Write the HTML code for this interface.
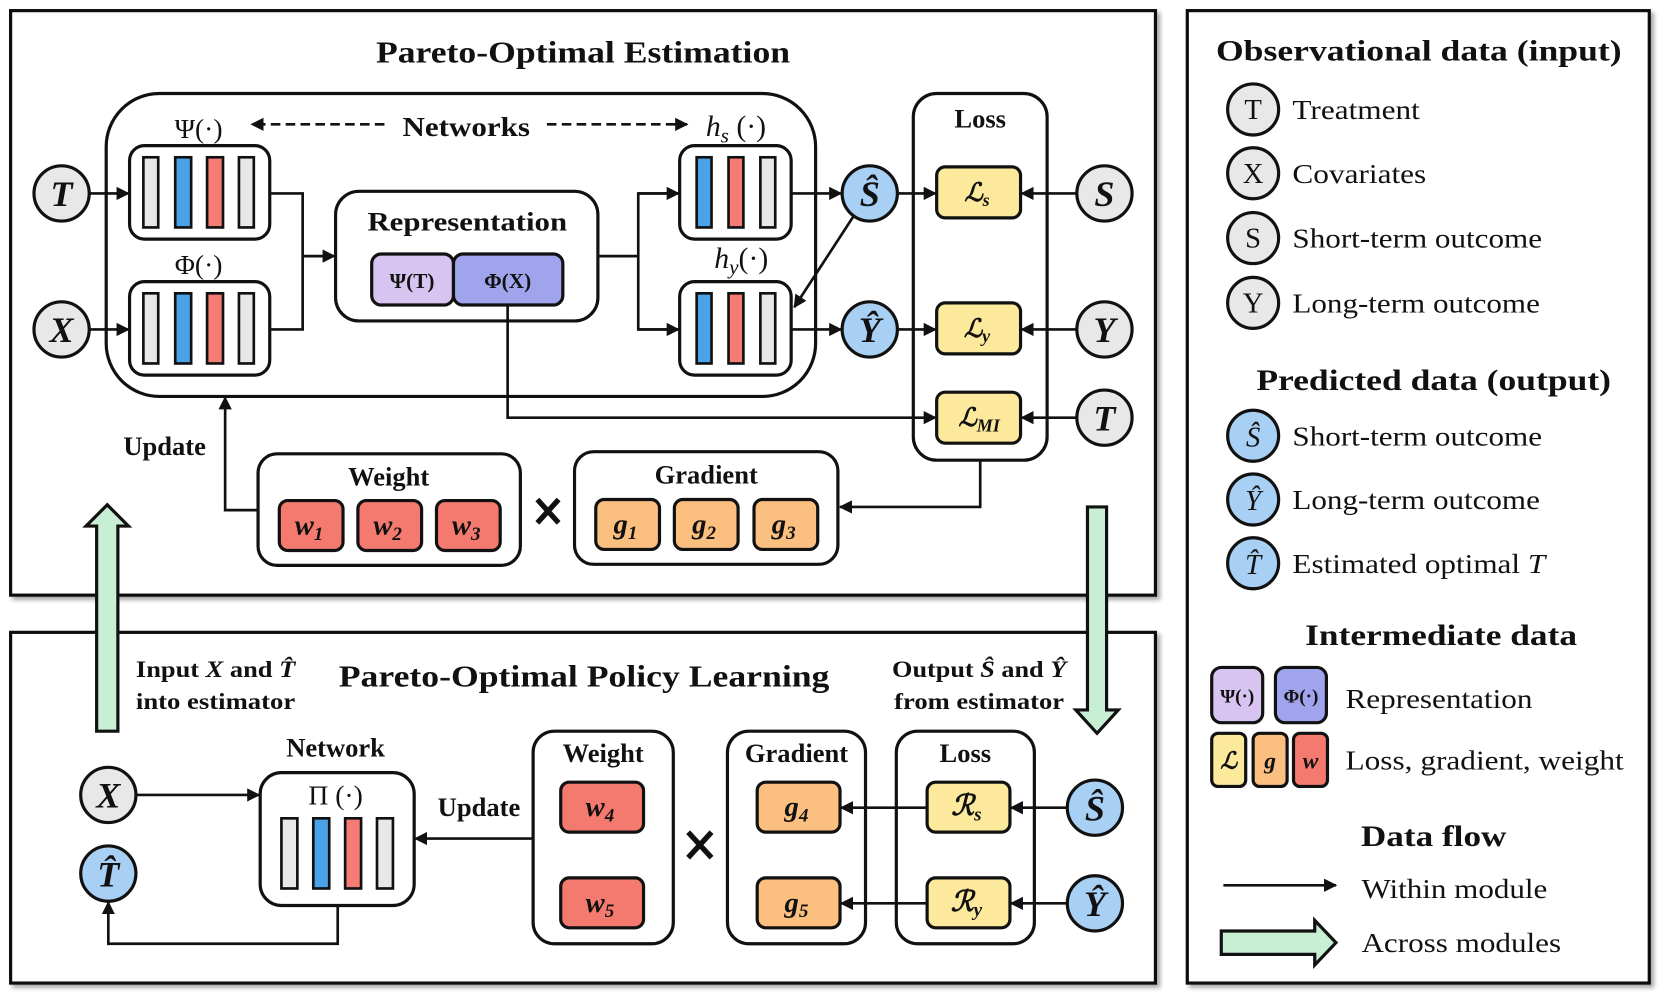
<!DOCTYPE html>
<html><head><meta charset="utf-8"><style>
html,body{margin:0;padding:0;background:#fff;}
svg{display:block;}
text{font-family:"Liberation Serif",serif;fill:#111;}
.b{font-weight:bold;}
.i{font-style:italic;}
</style></head><body>
<svg width="1662" height="999" viewBox="0 0 1565 940" preserveAspectRatio="none" xmlns="http://www.w3.org/2000/svg">
<defs>
<marker id="ah" viewBox="0 0 10 10" refX="9" refY="5" markerWidth="5" markerHeight="5" orient="auto-start-reverse"><path d="M0,0 L10,5 L0,10 z" fill="#111"/></marker>
<filter id="sh" x="-5%" y="-5%" width="110%" height="110%"><feDropShadow dx="3" dy="3" stdDeviation="2" flood-color="#000" flood-opacity="0.35"/></filter>
</defs>
<g fill="none" stroke="#111" stroke-width="3">
<rect x="10" y="10" width="1078" height="550" fill="#fff" filter="url(#sh)"/>
<rect x="10" y="595" width="1078" height="330" fill="#fff" filter="url(#sh)"/>
<rect x="1118" y="10" width="435" height="915" fill="#fff" filter="url(#sh)"/>
<rect x="100" y="88" width="668" height="285" rx="50"/>
<rect x="122" y="137" width="132" height="88" rx="14"/>
<rect x="122" y="265" width="132" height="88" rx="14"/>
<rect x="316" y="180" width="247" height="122" rx="22"/>
<rect x="640" y="137" width="105" height="88" rx="14"/>
<rect x="640" y="265" width="105" height="88" rx="14"/>
<rect x="860" y="88" width="126" height="345" rx="22"/>
<rect x="243" y="427" width="247" height="105" rx="18"/>
<rect x="541" y="425" width="248" height="106" rx="18"/>
</g>
<g stroke="#111" stroke-width="2.5">
<rect x="135" y="148" width="14" height="66" fill="#e8e8e8"/>
<rect x="165" y="148" width="15" height="66" fill="#4aa3e8"/>
<rect x="195" y="148" width="15" height="66" fill="#f47c74"/>
<rect x="225" y="148" width="14" height="66" fill="#e8e8e8"/>
<rect x="135" y="276" width="14" height="66" fill="#e8e8e8"/>
<rect x="165" y="276" width="15" height="66" fill="#4aa3e8"/>
<rect x="195" y="276" width="15" height="66" fill="#f47c74"/>
<rect x="225" y="276" width="14" height="66" fill="#e8e8e8"/>
<rect x="656" y="148" width="14" height="66" fill="#4aa3e8"/>
<rect x="686" y="148" width="14" height="66" fill="#f47c74"/>
<rect x="716" y="148" width="14" height="66" fill="#e8e8e8"/>
<rect x="656" y="276" width="14" height="66" fill="#4aa3e8"/>
<rect x="686" y="276" width="14" height="66" fill="#f47c74"/>
<rect x="716" y="276" width="14" height="66" fill="#e8e8e8"/>
<rect x="265" y="770" width="15" height="66" fill="#e8e8e8"/>
<rect x="295" y="770" width="15" height="66" fill="#4aa3e8"/>
<rect x="325" y="770" width="15" height="66" fill="#f47c74"/>
<rect x="355" y="770" width="15" height="66" fill="#e8e8e8"/>
</g>
<g stroke="#111" stroke-width="3">
<rect x="350" y="239" width="77" height="48" rx="9" fill="#d8c4f0"/>
<rect x="427" y="239" width="103" height="48" rx="9" fill="#a0a4ec"/>
<rect x="882" y="157" width="79" height="48" rx="8" fill="#fde99c"/>
<rect x="882" y="285" width="79" height="48" rx="8" fill="#fde99c"/>
<rect x="882" y="369" width="79" height="48" rx="8" fill="#fde99c"/>
<rect x="263" y="471" width="60" height="47" rx="8" fill="#f47a70"/>
<rect x="337" y="471" width="60" height="47" rx="8" fill="#f47a70"/>
<rect x="411" y="471" width="60" height="47" rx="8" fill="#f47a70"/>
<rect x="561" y="470" width="60" height="47" rx="8" fill="#fbbf80"/>
<rect x="635" y="470" width="60" height="47" rx="8" fill="#fbbf80"/>
<rect x="710" y="470" width="60" height="47" rx="8" fill="#fbbf80"/>
<circle cx="58" cy="182" r="26" fill="#e8e8e8"/>
<circle cx="58" cy="310" r="26" fill="#e8e8e8"/>
<circle cx="819" cy="182" r="26" fill="#a8d0f4"/>
<circle cx="819" cy="310" r="26" fill="#a8d0f4"/>
<circle cx="1040" cy="182" r="26" fill="#e8e8e8"/>
<circle cx="1040" cy="310" r="26" fill="#e8e8e8"/>
<circle cx="1040" cy="393" r="26" fill="#e8e8e8"/>
</g>
<g fill="none" stroke="#111" stroke-width="2.5">
<line x1="84" y1="182" x2="121" y2="182" marker-end="url(#ah)"/>
<line x1="84" y1="310" x2="121" y2="310" marker-end="url(#ah)"/>
<polyline points="254,182 285,182 285,310 254,310"/>
<line x1="285" y1="241" x2="315" y2="241" marker-end="url(#ah)"/>
<line x1="563" y1="241" x2="601" y2="241"/>
<polyline points="639,182 601,182 601,310 639,310"/>
<line x1="601" y1="182" x2="639" y2="182" marker-end="url(#ah)"/>
<line x1="601" y1="310" x2="639" y2="310" marker-end="url(#ah)"/>
<line x1="745" y1="182" x2="792" y2="182" marker-end="url(#ah)"/>
<line x1="745" y1="310" x2="792" y2="310" marker-end="url(#ah)"/>
<line x1="804" y1="203" x2="748" y2="289" marker-end="url(#ah)"/>
<line x1="845" y1="182" x2="881" y2="182" marker-end="url(#ah)"/>
<line x1="845" y1="310" x2="881" y2="310" marker-end="url(#ah)"/>
<line x1="1014" y1="182" x2="962" y2="182" marker-end="url(#ah)"/>
<line x1="1014" y1="310" x2="962" y2="310" marker-end="url(#ah)"/>
<line x1="1014" y1="393" x2="962" y2="393" marker-end="url(#ah)"/>
<polyline points="478,287 478,393 881,393" marker-end="url(#ah)"/>
<polyline points="923,433 923,477 791,477" marker-end="url(#ah)"/>
<polyline points="243,480 212,480 212,374" marker-end="url(#ah)"/>
<line x1="362" y1="117" x2="237" y2="117" stroke-dasharray="9,5" marker-end="url(#ah)"/>
<line x1="515" y1="117" x2="647" y2="117" stroke-dasharray="9,5" marker-end="url(#ah)"/>
</g>
<!-- bold multiplication crosses -->
<g stroke="#111" stroke-width="5" stroke-linecap="butt">
<path d="M506,470 L526,492 M526,470 L506,492"/>
<path d="M648,783 L670,807 M670,783 L648,807"/>
</g>
<g stroke="#111" stroke-width="3" fill="#c8eed4">
<path d="M91,688 L91,495 L81,495 L101,475 L121,495 L111,495 L111,688 Z"/>
<path d="M1024,477 L1024,668 L1013,668 L1033,690 L1053,668 L1042,668 L1042,477 Z"/>
<path d="M1150,876 L1238,876 L1238,866 L1258,887 L1238,908 L1238,898 L1150,898 Z"/>
</g>
<g fill="none" stroke="#111" stroke-width="3">
<rect x="245" y="727" width="145" height="125" rx="20"/>
<rect x="502" y="688" width="132" height="200" rx="20"/>
<rect x="685" y="688" width="130" height="200" rx="20"/>
<rect x="844" y="688" width="130" height="200" rx="20"/>
</g>
<g stroke="#111" stroke-width="3">
<rect x="528" y="736" width="78" height="47" rx="8" fill="#f47a70"/>
<rect x="528" y="826" width="78" height="47" rx="8" fill="#f47a70"/>
<rect x="713" y="736" width="78" height="47" rx="8" fill="#fbbf80"/>
<rect x="713" y="826" width="78" height="47" rx="8" fill="#fbbf80"/>
<rect x="873" y="736" width="78" height="47" rx="8" fill="#fde99c"/>
<rect x="873" y="826" width="78" height="47" rx="8" fill="#fde99c"/>
<circle cx="102" cy="748" r="26" fill="#e8e8e8"/>
<circle cx="102" cy="822" r="26" fill="#a8d0f4"/>
<circle cx="1031" cy="760" r="26" fill="#a8d0f4"/>
<circle cx="1031" cy="850" r="26" fill="#a8d0f4"/>
</g>
<g fill="none" stroke="#111" stroke-width="2.5">
<line x1="129" y1="748" x2="244" y2="748" marker-end="url(#ah)"/>
<polyline points="318,852 318,888 102,888 102,849" marker-end="url(#ah)"/>
<line x1="502" y1="789" x2="391" y2="789" marker-end="url(#ah)"/>
<line x1="873" y1="760" x2="792" y2="760" marker-end="url(#ah)"/>
<line x1="873" y1="850" x2="792" y2="850" marker-end="url(#ah)"/>
<line x1="1005" y1="760" x2="952" y2="760" marker-end="url(#ah)"/>
<line x1="1005" y1="850" x2="952" y2="850" marker-end="url(#ah)"/>
<line x1="1152" y1="833" x2="1258" y2="833" marker-end="url(#ah)"/>
</g>
<g stroke="#111" stroke-width="3">
<circle cx="1180" cy="103" r="24" fill="#e8e8e8"/>
<circle cx="1180" cy="163" r="24" fill="#e8e8e8"/>
<circle cx="1180" cy="224" r="24" fill="#e8e8e8"/>
<circle cx="1180" cy="285" r="24" fill="#e8e8e8"/>
<circle cx="1180" cy="410" r="24" fill="#a8d0f4"/>
<circle cx="1180" cy="470" r="24" fill="#a8d0f4"/>
<circle cx="1180" cy="530" r="24" fill="#a8d0f4"/>
<rect x="1141" y="628" width="48" height="52" rx="9" fill="#d8c4f0"/>
<rect x="1201" y="628" width="48" height="52" rx="9" fill="#a0a4ec"/>
<rect x="1141" y="690" width="32" height="50" rx="6" fill="#fde99c"/>
<rect x="1180" y="690" width="32" height="50" rx="6" fill="#fbbf80"/>
<rect x="1218" y="690" width="32" height="50" rx="6" fill="#f47a70"/>
</g>

<text x="549" y="59" class="b" font-size="29" text-anchor="middle" textLength="390" lengthAdjust="spacingAndGlyphs">Pareto-Optimal Estimation</text>
<text x="187" y="130" font-size="26" text-anchor="middle">Ψ(·)</text>
<text x="187" y="258" font-size="26" text-anchor="middle">Φ(·)</text>
<text x="439" y="128" class="b" font-size="26" text-anchor="middle" textLength="120" lengthAdjust="spacingAndGlyphs">Networks</text>
<text x="693" y="128" font-size="28" text-anchor="middle"><tspan class="i">h</tspan><tspan font-size="20" dy="6" class="i">s</tspan><tspan dy="-6"> (·)</tspan></text>
<text x="698" y="252" font-size="28" text-anchor="middle"><tspan class="i">h</tspan><tspan font-size="20" dy="6" class="i">y</tspan><tspan dy="-6">(·)</tspan></text>
<text x="440" y="217" class="b" font-size="25" text-anchor="middle" textLength="188" lengthAdjust="spacingAndGlyphs">Representation</text>
<text x="388" y="271" class="b" font-size="20" text-anchor="middle">Ψ(T)</text>
<text x="478" y="271" class="b" font-size="20" text-anchor="middle">Φ(X)</text>
<text x="923" y="120" class="b" font-size="25" text-anchor="middle">Loss</text>
<g font-size="34" text-anchor="middle">
<text x="58" y="194" class="b i">T</text>
<text x="58" y="322" class="b i">X</text>
<text x="819" y="194" class="b i">Ŝ</text>
<text x="819" y="322" class="b i">Ŷ</text>
<text x="1040" y="194" class="b i">S</text>
<text x="1040" y="322" class="b i">Y</text>
<text x="1040" y="405" class="b i">T</text>
</g>
<text x="920" y="189" font-size="24" text-anchor="middle" class="b i">ℒ<tspan font-size="17" dy="5">s</tspan></text>
<text x="920" y="317" font-size="24" text-anchor="middle" class="b i">ℒ<tspan font-size="17" dy="5">y</tspan></text>
<text x="922" y="401" font-size="24" text-anchor="middle" class="b i">ℒ<tspan font-size="17" dy="5">MI</tspan></text>
<text x="155" y="428" class="b" font-size="25" text-anchor="middle">Update</text>
<text x="366" y="457" class="b" font-size="25" text-anchor="middle">Weight</text>
<text x="665" y="455" class="b" font-size="25" text-anchor="middle">Gradient</text>
<g font-size="27" text-anchor="middle">
<text x="291" y="503" class="b i">w<tspan font-size="18" dy="5">1</tspan></text>
<text x="365" y="503" class="b i">w<tspan font-size="18" dy="5">2</tspan></text>
<text x="439" y="503" class="b i">w<tspan font-size="18" dy="5">3</tspan></text>
<text x="589" y="502" class="b i">g<tspan font-size="18" dy="5">1</tspan></text>
<text x="663" y="502" class="b i">g<tspan font-size="18" dy="5">2</tspan></text>
<text x="738" y="502" class="b i">g<tspan font-size="18" dy="5">3</tspan></text>
<text x="565" y="768" class="b i">w<tspan font-size="18" dy="5">4</tspan></text>
<text x="565" y="858" class="b i">w<tspan font-size="18" dy="5">5</tspan></text>
<text x="750" y="768" class="b i">g<tspan font-size="18" dy="5">4</tspan></text>
<text x="750" y="858" class="b i">g<tspan font-size="18" dy="5">5</tspan></text>
<text x="910" y="767" class="b i">ℛ<tspan font-size="18" dy="5">s</tspan></text>
<text x="910" y="857" class="b i">ℛ<tspan font-size="18" dy="5">y</tspan></text>
</g>

<text x="550" y="646" class="b" font-size="29" text-anchor="middle" textLength="462" lengthAdjust="spacingAndGlyphs">Pareto-Optimal Policy Learning</text>
<text x="128" y="637" class="b" font-size="22" textLength="150" lengthAdjust="spacingAndGlyphs">Input <tspan class="i">X</tspan> and <tspan class="i">T̂</tspan></text>
<text x="128" y="667" class="b" font-size="22" textLength="150" lengthAdjust="spacingAndGlyphs">into estimator</text>
<text x="922" y="637" class="b" font-size="22" text-anchor="middle" textLength="164" lengthAdjust="spacingAndGlyphs">Output <tspan class="i">Ŝ</tspan> and <tspan class="i">Ŷ</tspan></text>
<text x="922" y="667" class="b" font-size="22" text-anchor="middle" textLength="160" lengthAdjust="spacingAndGlyphs">from estimator</text>
<text x="316" y="712" class="b" font-size="25" text-anchor="middle">Network</text>
<text x="316" y="757" font-size="26" text-anchor="middle">Π (·)</text>
<text x="451" y="768" class="b" font-size="25" text-anchor="middle">Update</text>
<text x="568" y="717" class="b" font-size="25" text-anchor="middle">Weight</text>
<text x="750" y="717" class="b" font-size="25" text-anchor="middle">Gradient</text>
<text x="909" y="717" class="b" font-size="25" text-anchor="middle">Loss</text>
<g font-size="34" text-anchor="middle">
<text x="102" y="760" class="b i">X</text>
<text x="102" y="834" class="b i">T̂</text>
<text x="1031" y="772" class="b i">Ŝ</text>
<text x="1031" y="862" class="b i">Ŷ</text>
</g>

<text x="1336" y="57" class="b" font-size="28" text-anchor="middle" textLength="382" lengthAdjust="spacingAndGlyphs">Observational data (input)</text>
<g font-size="27" text-anchor="middle">
<text x="1180" y="112">T</text><text x="1180" y="172">X</text><text x="1180" y="233">S</text><text x="1180" y="294">Y</text>
<text x="1180" y="420" class="i">Ŝ</text><text x="1180" y="480" class="i">Ŷ</text><text x="1180" y="540" class="i">T̂</text>
</g>
<g font-size="26">
<text x="1217" y="112" textLength="120" lengthAdjust="spacingAndGlyphs">Treatment</text>
<text x="1217" y="172" textLength="126" lengthAdjust="spacingAndGlyphs">Covariates</text>
<text x="1217" y="233" textLength="235" lengthAdjust="spacingAndGlyphs">Short-term outcome</text>
<text x="1217" y="294" textLength="233" lengthAdjust="spacingAndGlyphs">Long-term outcome</text>
<text x="1217" y="419" textLength="235" lengthAdjust="spacingAndGlyphs">Short-term outcome</text>
<text x="1217" y="479" textLength="233" lengthAdjust="spacingAndGlyphs">Long-term outcome</text>
<text x="1217" y="539" textLength="238" lengthAdjust="spacingAndGlyphs">Estimated optimal <tspan class="i">T</tspan></text>
<text x="1267" y="666" textLength="176" lengthAdjust="spacingAndGlyphs">Representation</text>
<text x="1267" y="724" textLength="262" lengthAdjust="spacingAndGlyphs">Loss, gradient, weight</text>
<text x="1282" y="845" textLength="175" lengthAdjust="spacingAndGlyphs">Within module</text>
<text x="1282" y="896" textLength="188" lengthAdjust="spacingAndGlyphs">Across modules</text>
</g>
<text x="1350" y="367" class="b" font-size="28" text-anchor="middle" textLength="334" lengthAdjust="spacingAndGlyphs">Predicted data (output)</text>
<text x="1357" y="607" class="b" font-size="28" text-anchor="middle" textLength="256" lengthAdjust="spacingAndGlyphs">Intermediate data</text>
<text x="1350" y="796" class="b" font-size="28" text-anchor="middle" textLength="137" lengthAdjust="spacingAndGlyphs">Data flow</text>
<g font-size="18" text-anchor="middle">
<text x="1165" y="661" class="b">Ψ(·)</text>
<text x="1225" y="661" class="b">Φ(·)</text>
</g>
<g font-size="22" text-anchor="middle">
<text x="1157" y="723" class="b i">ℒ</text>
<text x="1196" y="723" class="b i">g</text>
<text x="1234" y="723" class="b i">w</text>
</g>
</svg>
</body></html>
